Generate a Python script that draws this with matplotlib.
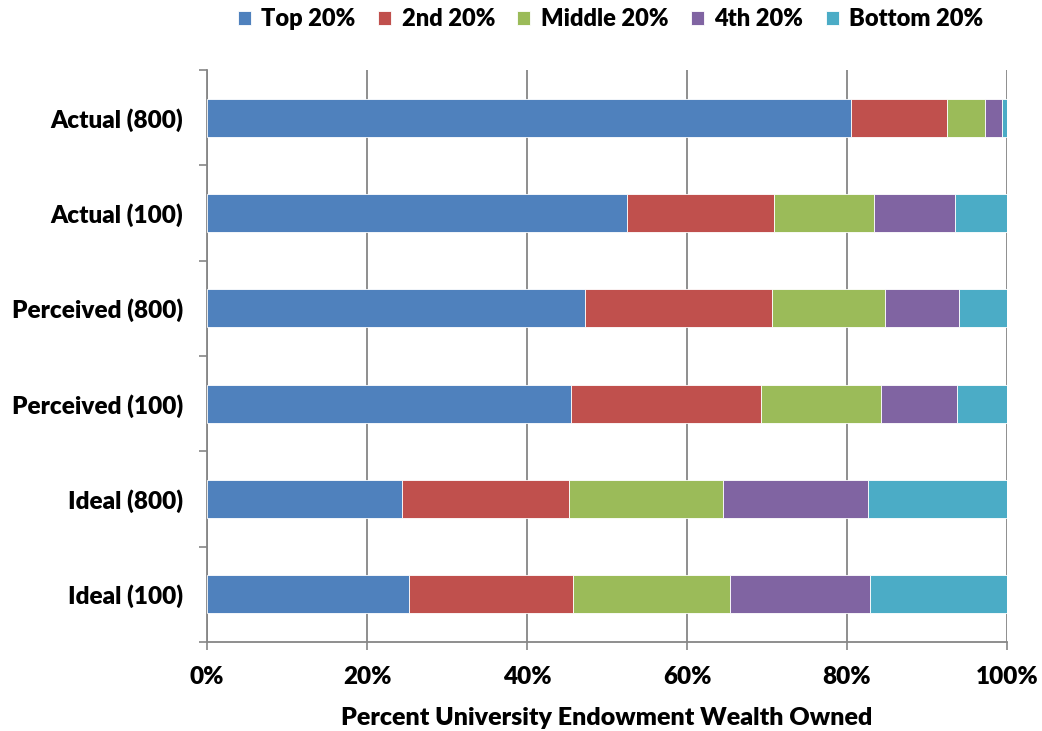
import numpy as np
import matplotlib.pyplot as plt

# Kategorier (ovenfra og ned) og andeler per kvintil [%]
categories = ['Actual (800)', 'Actual (100)', 'Perceived (800)',
              'Perceived (100)', 'Ideal (800)', 'Ideal (100)']
series_names = ['Top 20%', '2nd 20%', 'Middle 20%', '4th 20%', 'Bottom 20%']
top20 = [80.5, 52.5, 47.2, 45.5, 24.4, 25.3]
second20 = [12.0, 18.4, 23.4, 23.8, 20.9, 20.5]
middle20 = [4.8, 12.5, 14.15, 14.9, 19.2, 19.6]
fourth20 = [2.1, 10.1, 9.25, 9.6, 18.15, 17.5]
bottom20 = [0.6, 6.5, 6.0, 6.2, 17.35, 17.1]
x_ticks = [0, 20, 40, 60, 80, 100]
x_ticklabels = ['0%', '20%', '40%', '60%', '80%', '100%']

colors = ['#4F81BD', '#C0504D', '#9BBB59', '#8064A2', '#4BACC6']
plt.rcParams['font.family'] = ['Lato', 'DejaVu Sans']
plt.rcParams['font.weight'] = 'bold'

fig = plt.figure(figsize=(10.42, 7.31), dpi=100)
ax = fig.add_axes([207/1042, 1 - 642/731, 800/1042, 572/731])

y = np.arange(len(categories))[::-1]
left = np.zeros(len(categories))
for name, vals, c in zip(series_names, [top20, second20, middle20, fourth20, bottom20], colors):
    ax.barh(y, vals, left=left, height=0.4, color=c, edgecolor='white',
            linewidth=0.6, label=name, zorder=3)
    left += np.array(vals)

ax.set_xlim(0, 100)
ax.set_ylim(-0.5, len(categories) - 0.5)
ax.set_xticks(x_ticks)
ax.set_xticklabels(x_ticklabels, fontsize=17.5, fontweight='heavy')
ax.set_yticks(y)
ax.set_yticklabels(categories, fontsize=17.5, fontweight='heavy')
ax.set_yticks(np.arange(-0.5, len(categories)), minor=True)
ax.tick_params(axis='y', which='major', length=0, pad=17)
ax.tick_params(axis='y', which='minor', length=6, color='#868686', width=1.2)
ax.tick_params(axis='x', length=6, color='#868686', width=1.2, pad=11)

ax.grid(axis='x', color='#868686', linewidth=1.3, zorder=0)
for s in ['top', 'right']:
    ax.spines[s].set_visible(False)
for s in ['left', 'bottom']:
    ax.spines[s].set_color('#868686')
    ax.spines[s].set_linewidth(1.3)

ax.set_xlabel('Percent University Endowment Wealth Owned', fontsize=18,
              fontweight='heavy', labelpad=14)

fig.legend(loc='upper center', bbox_to_anchor=(0.586, 1.018), ncol=5, frameon=False,
           handlelength=0.55, handleheight=0.55, handletextpad=0.45,
           columnspacing=0.95, prop={'weight': 'heavy', 'size': 17})

plt.savefig('out.png', dpi=100)
plt.close()
